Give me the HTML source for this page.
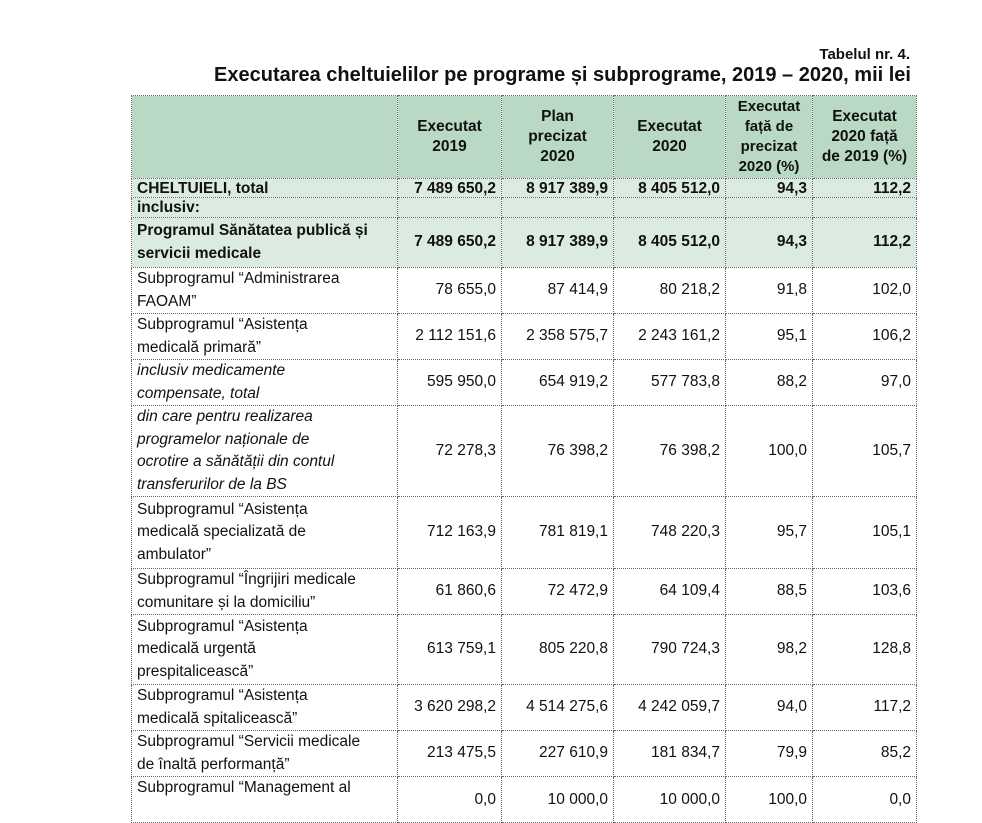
<!DOCTYPE html>
<html><head><meta charset="utf-8">
<style>
body{margin:0;width:982px;height:801px;overflow:hidden;background:#fff;font-family:"Liberation Sans",sans-serif;color:#111;position:relative}
.t1{position:absolute;right:72px;top:46px;font-weight:bold;font-size:15px}
.t2{position:absolute;right:71px;top:64px;font-weight:bold;font-size:20px;white-space:nowrap}
table{position:absolute;left:131px;top:95px;border-collapse:collapse;table-layout:fixed;font-size:15.5px}
td{border:1px dotted #666;padding:0 5px;white-space:nowrap;line-height:22.5px;vertical-align:middle;overflow:hidden}
td.n{text-align:right}
tr.h td{background:#b9d9c5;font-weight:bold;text-align:center;line-height:20px}
tr.g td{background:#dcebe0;font-weight:bold}
tr.s td{line-height:17px}
td.l{text-align:left}
.i{font-style:italic}
</style></head><body>
<div class="t1">Tabelul nr. 4.</div>
<div class="t2">Executarea cheltuielilor pe programe și subprograme, 2019 – 2020, mii lei</div>
<table>
<colgroup><col style="width:266px"><col style="width:104px"><col style="width:112px"><col style="width:112px"><col style="width:87px"><col style="width:104px"></colgroup>
<tr class="h" style="height:83px"><td></td><td>Executat<br>2019</td><td>Plan<br>precizat<br>2020</td><td>Executat<br>2020</td><td style="font-size:15px">Executat<br>față de<br>precizat<br>2020 (%)</td><td>Executat<br>2020 față<br>de 2019 (%)</td></tr>
<tr class="g s" style="height:19px"><td class="l">CHELTUIELI, total</td><td class="n">7 489 650,2</td><td class="n">8 917 389,9</td><td class="n">8 405 512,0</td><td class="n">94,3</td><td class="n">112,2</td></tr>
<tr class="g s" style="height:20px"><td class="l">inclusiv:</td><td></td><td></td><td></td><td></td><td></td></tr>
<tr class="g" style="height:50px"><td class="l">Programul Sănătatea publică și<br>servicii medicale</td><td class="n">7 489 650,2</td><td class="n">8 917 389,9</td><td class="n">8 405 512,0</td><td class="n">94,3</td><td class="n">112,2</td></tr>
<tr style="height:46px"><td>Subprogramul “Administrarea<br>FAOAM”</td><td class="n">78 655,0</td><td class="n">87 414,9</td><td class="n">80 218,2</td><td class="n">91,8</td><td class="n">102,0</td></tr>
<tr style="height:45px"><td>Subprogramul “Asistența<br>medicală primară”</td><td class="n">2 112 151,6</td><td class="n">2 358 575,7</td><td class="n">2 243 161,2</td><td class="n">95,1</td><td class="n">106,2</td></tr>
<tr style="height:46px"><td class="i">inclusiv medicamente<br>compensate, total</td><td class="n">595 950,0</td><td class="n">654 919,2</td><td class="n">577 783,8</td><td class="n">88,2</td><td class="n">97,0</td></tr>
<tr style="height:90px"><td class="i">din care pentru realizarea<br>programelor naționale de<br>ocrotire a sănătății din contul<br>transferurilor de la BS</td><td class="n">72 278,3</td><td class="n">76 398,2</td><td class="n">76 398,2</td><td class="n">100,0</td><td class="n">105,7</td></tr>
<tr style="height:72px"><td>Subprogramul “Asistența<br>medicală specializată de<br>ambulator”</td><td class="n">712 163,9</td><td class="n">781 819,1</td><td class="n">748 220,3</td><td class="n">95,7</td><td class="n">105,1</td></tr>
<tr style="height:44px"><td>Subprogramul “Îngrijiri medicale<br>comunitare și la domiciliu”</td><td class="n">61 860,6</td><td class="n">72 472,9</td><td class="n">64 109,4</td><td class="n">88,5</td><td class="n">103,6</td></tr>
<tr style="height:70px"><td>Subprogramul “Asistența<br>medicală urgentă<br>prespitalicească”</td><td class="n">613 759,1</td><td class="n">805 220,8</td><td class="n">790 724,3</td><td class="n">98,2</td><td class="n">128,8</td></tr>
<tr style="height:46px"><td>Subprogramul “Asistența<br>medicală spitalicească”</td><td class="n">3 620 298,2</td><td class="n">4 514 275,6</td><td class="n">4 242 059,7</td><td class="n">94,0</td><td class="n">117,2</td></tr>
<tr style="height:46px"><td>Subprogramul “Servicii medicale<br>de înaltă performanță”</td><td class="n">213 475,5</td><td class="n">227 610,9</td><td class="n">181 834,7</td><td class="n">79,9</td><td class="n">85,2</td></tr>
<tr style="height:46px"><td style="vertical-align:top">Subprogramul “Management al</td><td class="n" style="vertical-align:top;padding-top:12px">0,0</td><td class="n" style="vertical-align:top;padding-top:12px">10 000,0</td><td class="n" style="vertical-align:top;padding-top:12px">10 000,0</td><td class="n" style="vertical-align:top;padding-top:12px">100,0</td><td class="n" style="vertical-align:top;padding-top:12px">0,0</td></tr>
</table>
</body></html>
